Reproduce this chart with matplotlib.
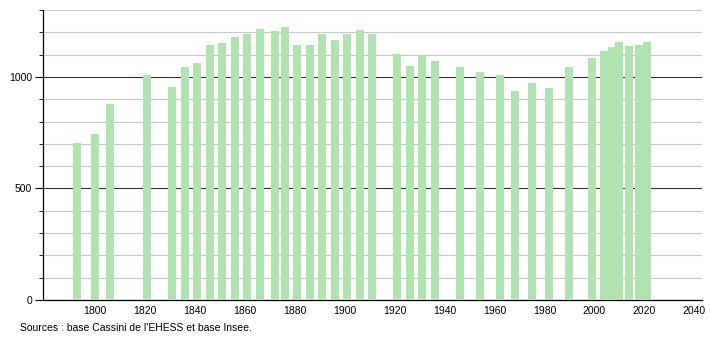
import matplotlib
matplotlib.use("Agg")
import matplotlib.pyplot as plt
from matplotlib.ticker import MultipleLocator

years = [1793, 1800, 1806, 1821, 1831, 1836, 1841, 1846, 1851, 1856,
         1861, 1866, 1872, 1876, 1881, 1886, 1891, 1896, 1901, 1906,
         1911, 1921, 1926, 1931, 1936, 1946, 1954, 1962, 1968, 1975,
         1982, 1990, 1999, 2004, 2007, 2010, 2014, 2018, 2021]
population = [702, 744, 879, 1008, 954, 1045, 1063, 1143, 1152, 1180,
              1193, 1215, 1205, 1224, 1143, 1143, 1193, 1166, 1193, 1211,
              1193, 1103, 1049, 1096, 1072, 1043, 1024, 1009, 937, 974,
              952, 1043, 1084, 1118, 1136, 1155, 1139, 1143, 1155]
x_ticks = list(range(1800, 2041, 20))
y_ticks = [0, 500, 1000]
source = "Sources : base Cassini de l'EHESS et base Insee."

plt.rcParams['font.family'] = ['Liberation Sans', 'DejaVu Sans']

fig = plt.figure(figsize=(7.1, 3.4), dpi=100)
ax = fig.add_axes([0.0606, 0.1176, 0.928, 0.853])

ax.bar(years, population, width=3.2, color='#b1e3b1', edgecolor='none', zorder=3)

ax.set_xlim(1779.3, 2043)
ax.set_ylim(0, 1300)
ax.set_xticks(x_ticks)
ax.set_yticks(y_ticks)
ax.yaxis.set_minor_locator(MultipleLocator(100))

ax.grid(axis='y', which='minor', color='#c8c8c8', linewidth=0.8, zorder=1)
ax.grid(axis='y', which='major', color='#333333', linewidth=0.8, zorder=2)

for side in ['top', 'right']:
    ax.spines[side].set_visible(False)
ax.spines['left'].set_linewidth(0.9)
ax.spines['bottom'].set_linewidth(0.9)

ax.tick_params(axis='x', length=0, labelsize=7.5, pad=4)
ax.tick_params(axis='y', which='major', length=6, width=0.8, labelsize=7.5, pad=2)
ax.tick_params(axis='y', which='minor', length=3, width=0.6)

fig.text(0.028, 0.035, source, fontsize=7.5, ha='left', va='center')

fig.savefig('out.png', dpi=100)
